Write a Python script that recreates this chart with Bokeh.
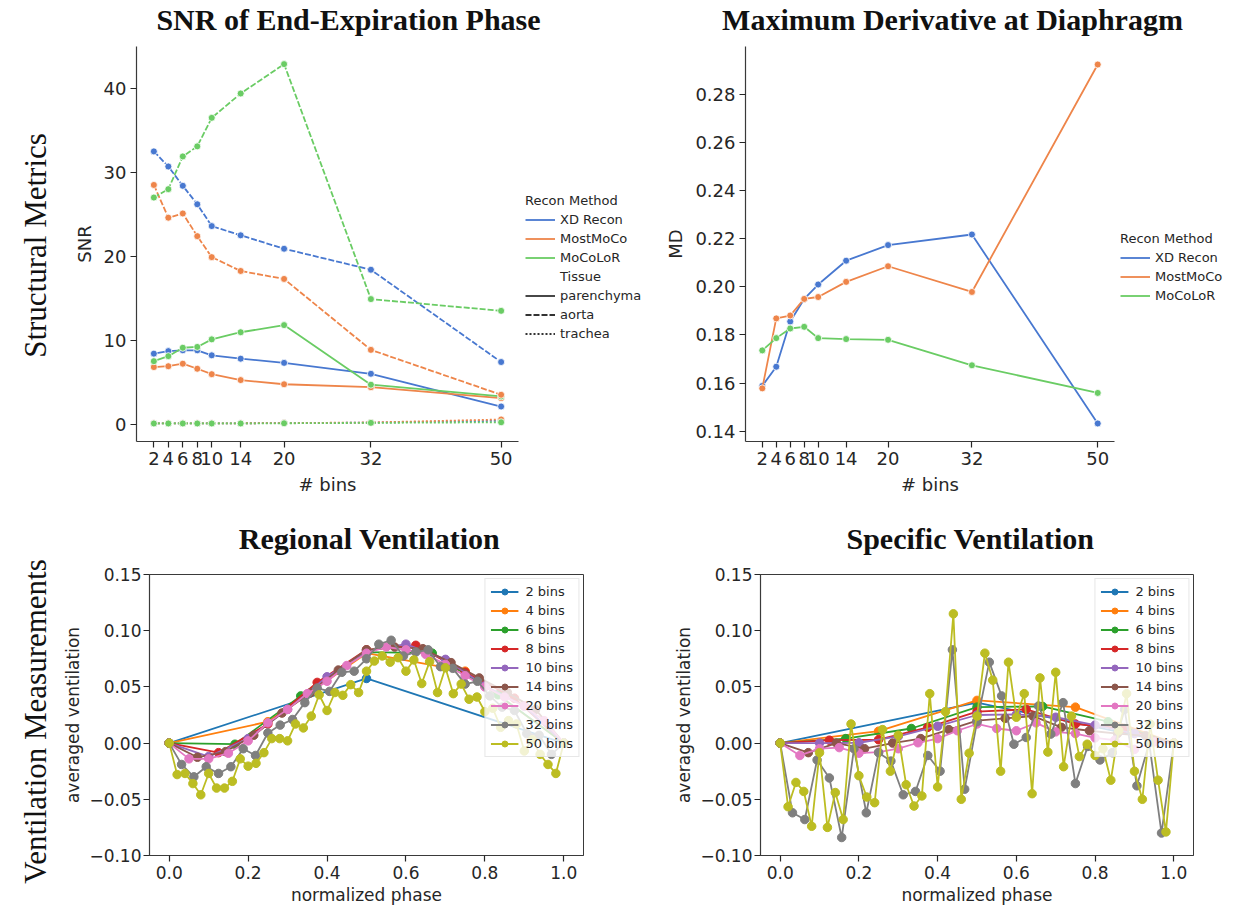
import numpy as np
from bokeh.plotting import figure
from bokeh.layouts import row, column
from bokeh.models import Legend, LegendItem, FixedTicker, Range1d
from bokeh.core.properties import value
from bokeh.embed import file_html
from bokeh.resources import INLINE

# ---------------- data ----------------
bins = [2, 4, 6, 8, 10, 14, 20, 32, 50]
bin_ticks = [2, 4, 6, 8, 10, 14, 20, 32, 50]
methods = ["XD Recon", "MostMoCo", "MoCoLoR"]
tissues = ["parenchyma", "aorta", "trachea"]

snr_parenchyma = {
    "XD Recon": [8.4, 8.7, 8.8, 8.8, 8.2, 7.8, 7.3, 6.0, 2.1],
    "MostMoCo": [6.8, 6.9, 7.2, 6.6, 5.95, 5.25, 4.75, 4.4, 3.1],
    "MoCoLoR": [7.5, 8.1, 9.1, 9.2, 10.1, 10.95, 11.8, 4.7, 3.3],
}
snr_aorta = {
    "XD Recon": [32.5, 30.7, 28.4, 26.2, 23.6, 22.5, 20.9, 18.4, 7.4],
    "MostMoCo": [28.5, 24.6, 25.1, 22.4, 19.9, 18.25, 17.3, 8.85, 3.5],
    "MoCoLoR": [27.0, 28.0, 31.9, 33.1, 36.5, 39.4, 42.9, 14.9, 13.5],
}
snr_trachea = {
    "XD Recon": [0.1, 0.1, 0.1, 0.1, 0.1, 0.1, 0.12, 0.18, 0.4],
    "MostMoCo": [0.1, 0.1, 0.1, 0.1, 0.1, 0.1, 0.12, 0.2, 0.55],
    "MoCoLoR": [0.08, 0.08, 0.08, 0.08, 0.08, 0.08, 0.1, 0.15, 0.22],
}
md_values = {
    "XD Recon": [0.1588, 0.1668, 0.1856, 0.1950, 0.2010, 0.2109, 0.2174, 0.2218, 0.1432],
    "MostMoCo": [0.1578, 0.1869, 0.1881, 0.1950, 0.1958, 0.2021, 0.2086, 0.1979, 0.2925],
    "MoCoLoR": [0.1736, 0.1787, 0.1827, 0.1834, 0.1787, 0.1783, 0.1780, 0.1674, 0.1559],
}

# ventilation curves, one value per phase point k/n (k = 0..n)
regional = {
    2: [0, 0.0575, 0],
    4: [0, 0.019, 0.080, 0.064, 0],
    6: [0, -0.001, 0.042, 0.081, 0.080, 0.043, 0],
    8: [0, -0.0085, 0.017, 0.054, 0.083, 0.087, 0.063, 0.040, 0],
    10: [0, -0.012, 0.004, 0.030, 0.059, 0.082, 0.088, 0.0745, 0.051, 0.033, 0],
    14: [0, -0.0126, -0.0076, 0.007, 0.0267, 0.0446, 0.065, 0.083, 0.0854, 0.084,
         0.0716, 0.058, 0.045, 0.030, 0],
    20: [0, -0.014, -0.014, -0.009, 0.002, 0.018, 0.030, 0.044, 0.055, 0.069, 0.080,
         0.0855, 0.083, 0.079, 0.070, 0.060, 0.050, 0.041, 0.033, 0.020, 0],
    32: [0, -0.019, -0.030, -0.021, -0.027, -0.021, -0.005, -0.011, 0.009, 0.016,
         0.021, 0.036, 0.049, 0.046, 0.063, 0.064, 0.075, 0.088, 0.0915, 0.0775,
         0.081, 0.083, 0.068, 0.0665, 0.0525, 0.055, 0.042, 0.032, 0.029, 0.0085,
         0.007, -0.010, 0],
    50: [0, -0.028, -0.027, -0.036, -0.046, -0.027, -0.040, -0.040, -0.034, -0.014,
         -0.0205, -0.018, -0.0085, 0.004, 0.004, 0.002, 0.017, 0.0135, 0.024, 0.043,
         0.029, 0.045, 0.0425, 0.052, 0.045, 0.064, 0.073, 0.0775, 0.072, 0.076,
         0.064, 0.074, 0.053, 0.0725, 0.045, 0.067, 0.044, 0.0525, 0.039, 0.041,
         0.028, 0.031, 0.014, 0.020, 0.017, -0.007, 0.003, -0.010, -0.019, -0.027, 0],
}
specific = {
    2: [0, 0.036, 0],
    4: [0, 0.0106, 0.038, 0.032, 0],
    6: [0, 0.004, 0.013, 0.032, 0.0326, 0.019, 0],
    8: [0, 0.0026, 0.003, 0.014, 0.028, 0.030, 0.017, 0.013, 0],
    10: [0, 0.0, 0.0003, 0.006, 0.015, 0.025, 0.0255, 0.023, 0.016, 0.0085, 0],
    14: [0, -0.0085, 0.0, -0.005, 0.0, 0.004, 0.012, 0.020, 0.022, 0.024, 0.014,
         0.011, 0.0085, 0.0065, 0],
    20: [0, -0.011, -0.005, -0.004, -0.009, -0.008, -0.005, 0.0003, 0.004, 0.011,
         0.017, 0.013, 0.011, 0.018, 0.010, 0.0085, 0.0047, 0.0026, -0.0056, 0.001, 0],
    32: [0, -0.062, -0.068, -0.015, -0.031, -0.084, -0.005, -0.062, -0.0085, -0.016,
         -0.046, -0.043, -0.011, -0.025, 0.083, -0.041, 0.019, 0.072, 0.042, -0.001,
         0.005, 0.033, 0.008, 0.036, -0.036, -0.003, -0.015, -0.0085, 0.030, -0.038,
         0.0, -0.080, 0],
    50: [0, -0.0566, -0.035, -0.043, -0.074, -0.0085, -0.075, -0.044, -0.068, 0.017,
         -0.029, -0.048, -0.053, 0.012, -0.025, 0.007, -0.037, -0.056, -0.047, 0.044,
         -0.039, 0.028, 0.115, -0.050, -0.009, 0.024, 0.080, 0.056, -0.025, 0.072,
         0.023, 0.044, -0.045, 0.058, -0.008, 0.063, -0.021, 0.024, -0.012, -0.001,
         -0.011, -0.005, -0.033, 0.011, 0.044, -0.025, -0.050, 0.017, -0.033, -0.079, 0],
}

phase_ticks = [0.0, 0.2, 0.4, 0.6, 0.8, 1.0]
phase_labels = ["0.0", "0.2", "0.4", "0.6", "0.8", "1.0"]
vent_ticks = [-0.10, -0.05, 0.0, 0.05, 0.10, 0.15]
vent_labels = ["\u22120.10", "\u22120.05", "0.00", "0.05", "0.10", "0.15"]
snr_ticks = [0, 10, 20, 30, 40]
md_ticks = [0.14, 0.16, 0.18, 0.20, 0.22, 0.24, 0.26, 0.28]

panel_titles = ["SNR of End-Expiration Phase", "Maximum Derivative at Diaphragm",
                "Regional Ventilation", "Specific Ventilation"]
row_titles = ["Structural Metrics", "Ventilation Measurements"]

# ---------------- styles ----------------
muted = {"XD Recon": "#4878d0", "MostMoCo": "#ee854a", "MoCoLoR": "#6acc64"}
tissue_dash = {"parenchyma": "solid", "aorta": "6 2", "trachea": "2 2"}
tab10 = ["#1f77b4", "#ff7f0e", "#2ca02c", "#d62728", "#9467bd",
         "#8c564b", "#e377c2", "#7f7f7f", "#bcbd22"]
TICK_FONT = "DejaVu Sans"
INK = "#262626"
NO_POINTS = [np.nan, np.nan]   # legend handles carry no visible geometry


def make_fig(w, h, xr, yr, left, right, top, bottom, boxed, font_px):
    p = figure(width=w, height=h, x_range=Range1d(*xr), y_range=Range1d(*yr),
               output_backend="svg", toolbar_location=None,
               min_border_left=left, min_border_right=right,
               min_border_top=top, min_border_bottom=bottom)
    p.grid.visible = False
    p.background_fill_color = "white"
    p.border_fill_color = "white"
    if boxed:
        p.outline_line_color = "#3a3a3a"
        p.outline_line_width = 1
    else:
        p.outline_line_color = None
    for ax in (p.xaxis[0], p.yaxis[0]):
        ax.axis_line_color = "#3a3a3a"
        ax.axis_line_width = 1.2
        ax.major_tick_line_color = INK
        ax.major_tick_line_width = 1.2
        ax.major_tick_out = 6
        ax.major_tick_in = 0
        ax.minor_tick_line_color = None
        ax.major_label_text_font = TICK_FONT
        ax.major_label_text_font_size = f"{font_px}px"
        ax.major_label_text_color = INK
        ax.major_label_standoff = 4
        ax.axis_label_text_font = TICK_FONT
        ax.axis_label_text_font_size = f"{font_px}px"
        ax.axis_label_text_font_style = "normal"
        ax.axis_label_text_color = INK
        ax.axis_label_standoff = 6
    return p


def blank_fig(w, h):
    p = figure(width=w, height=h, x_range=Range1d(0, w), y_range=Range1d(0, h),
               output_backend="svg", toolbar_location=None,
               x_axis_location=None, y_axis_location=None,
               min_border=0)
    p.grid.visible = False
    p.outline_line_color = None
    p.background_fill_color = "white"
    p.border_fill_color = "white"
    return p


def tick_axis(ax, ticks, labels=None):
    ax.ticker = FixedTicker(ticks=ticks)
    if labels is not None:
        ax.major_label_overrides = {t: l for t, l in zip(ticks, labels)}


def legend_style(lg):
    lg.title_text_font = TICK_FONT
    lg.title_text_font_size = "13px"
    lg.title_text_font_style = "normal"
    lg.title_text_color = INK
    lg.title_standoff = 4
    lg.label_text_font = TICK_FONT
    lg.label_text_font_size = "13px"
    lg.label_text_color = INK
    lg.glyph_width = 30
    lg.glyph_height = 15
    lg.label_height = 15
    lg.spacing = 4
    lg.padding = 0
    lg.margin = 0
    lg.border_line_color = None
    lg.background_fill_alpha = 0


def method_items(lp):
    return [LegendItem(label=m, renderers=[
        lp.line(NO_POINTS, NO_POINTS, line_color=muted[m], line_width=1.8)])
        for m in methods]


# ---------------- SNR ----------------
snr = make_fig(464, 460, (-0.4, 52.4), (-2.07, 45.0), 76, 6, 6, 59, False, 18)
tick_axis(snr.xaxis[0], bin_ticks, [str(b) for b in bin_ticks])
tick_axis(snr.yaxis[0], snr_ticks, [str(t) for t in snr_ticks])
snr.xaxis.axis_label = "# bins"
snr.yaxis.axis_label = "SNR"
for tissue, table in (("parenchyma", snr_parenchyma), ("aorta", snr_aorta),
                      ("trachea", snr_trachea)):
    for m in methods:
        snr.line(bins, table[m], line_color=muted[m], line_width=1.8,
                 line_dash=tissue_dash[tissue])
        snr.scatter(bins, table[m], size=7, fill_color=muted[m],
                    line_color="white", line_width=0.8)

snr_key = blank_fig(136, 460)
snr_items = method_items(snr_key)
snr_items.append(LegendItem(label="Tissue", renderers=[
    snr_key.line(NO_POINTS, NO_POINTS, line_alpha=0)]))
snr_items += [LegendItem(label=t, renderers=[
    snr_key.line(NO_POINTS, NO_POINTS, line_color="#333333", line_width=1.8,
                 line_dash=tissue_dash[t])]) for t in tissues]
snr_leg = Legend(title="Recon Method", items=snr_items, location=(1, 100))
legend_style(snr_leg)
snr_key.add_layout(snr_leg)

# ---------------- MD ----------------
md = make_fig(458, 460, (-0.4, 52.4), (0.1357, 0.300), 85, 4, 6, 59, False, 18)
tick_axis(md.xaxis[0], bin_ticks, [str(b) for b in bin_ticks])
tick_axis(md.yaxis[0], md_ticks, [f"{t:.2f}" for t in md_ticks])
md.xaxis.axis_label = "# bins"
md.yaxis.axis_label = "MD"
for m in methods:
    md.line(bins, md_values[m], line_color=muted[m], line_width=1.8)
    md.scatter(bins, md_values[m], size=7, fill_color=muted[m],
               line_color="white", line_width=0.8)

md_key = blank_fig(118, 460)
md_leg = Legend(title="Recon Method", items=method_items(md_key), location=(2, 138))
legend_style(md_leg)
md_key.add_layout(md_leg)


# ---------------- ventilation ----------------
def vent_fig(w, left, right, curves):
    p = make_fig(w, 342, (-0.05, 1.05), (-0.10, 0.15), left, right, 9, 49, True, 17)
    tick_axis(p.xaxis[0], phase_ticks, phase_labels)
    tick_axis(p.yaxis[0], vent_ticks, vent_labels)
    p.xaxis.axis_label = "normalized phase"
    p.yaxis.axis_label = "averaged ventilation"
    p.xaxis.axis_label_standoff = 3
    p.yaxis.axis_label_standoff = 3
    p.yaxis.major_label_standoff = 2
    items = []
    for color, (n, vals) in zip(tab10, curves.items()):
        ph = [k / n for k in range(n + 1)]
        lr = p.line(ph, vals, line_color=color, line_width=1.8)
        sr = p.scatter(ph, vals, size=8.5, fill_color=color, line_color=color)
        items.append(LegendItem(label=f"{n} bins", renderers=[lr, sr]))
    lg = Legend(items=items, location="top_right")
    lg.label_text_font = TICK_FONT
    lg.label_text_font_size = "13px"
    lg.label_text_color = INK
    lg.glyph_width = 28
    lg.glyph_height = 15
    lg.label_height = 15
    lg.spacing = 4
    lg.padding = 5
    lg.margin = 4
    lg.label_standoff = 7
    lg.border_line_color = "#d0d0d0"
    lg.background_fill_color = "white"
    lg.background_fill_alpha = 0.8
    p.add_layout(lg)
    return p


reg = vent_fig(600, 88, 77, regional)
spec = vent_fig(576, 100, 43, specific)

# ---------------- titles ----------------
title_kw = dict(text_font=value("Liberation Serif"), text_font_style="bold",
                text_font_size="30px", text_align="center", text_baseline="middle",
                text_color="#111111")
top_strip = blank_fig(1176, 40)
top_strip.text(x=[288, 892], y=[21, 21], text=panel_titles[:2], **title_kw)
mid_strip = blank_fig(1176, 65)
mid_strip.text(x=[309, 910], y=[27, 27], text=panel_titles[2:], **title_kw)

side_strip = blank_fig(60, 907)
side_strip.text(x=[35, 35], y=[662, 186], text=row_titles, angle=np.pi / 2,
                text_font=value("Liberation Serif"), text_font_size="31px",
                text_align="center", text_baseline="middle", text_color="#111111")

layout = row(side_strip,
             column(top_strip, row(snr, snr_key, md, md_key),
                    mid_strip, row(reg, spec)))

open("out.html", "w").write(file_html(layout, INLINE))
